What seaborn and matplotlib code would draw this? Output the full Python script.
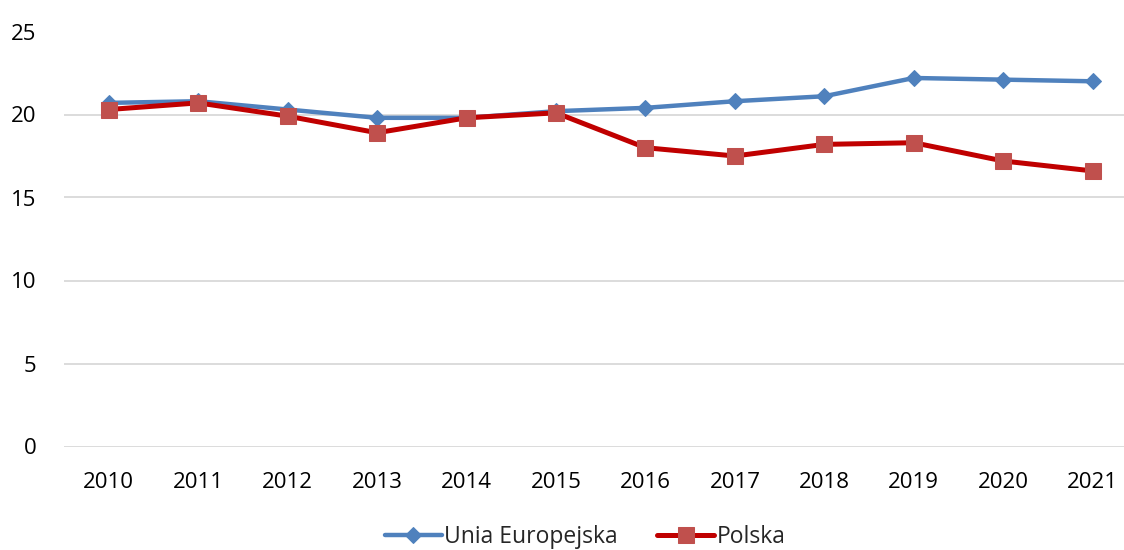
import pandas as pd
import seaborn as sns
import matplotlib.pyplot as plt

years = ["2010", "2011", "2012", "2013", "2014", "2015",
         "2016", "2017", "2018", "2019", "2020", "2021"]
eu = [20.7, 20.8, 20.3, 19.8, 19.8, 20.2, 20.4, 20.8, 21.1, 22.2, 22.1, 22.0]
pl = [20.3, 20.7, 19.9, 18.9, 19.8, 20.1, 18.0, 17.5, 18.2, 18.3, 17.2, 16.6]
labels = ["Unia Europejska", "Polska"]

df = pd.DataFrame({
    "rok": years * 2,
    "wartosc": eu + pl,
    "seria": [labels[0]] * len(years) + [labels[1]] * len(years),
})

sns.set_style("white")
plt.rcParams["font.family"] = ["Open Sans", "DejaVu Sans"]

fig = plt.figure(figsize=(11.24, 5.5), dpi=100)
ax = fig.add_axes([64 / 1124, (550 - 446.5) / 550, 1060 / 1124, 415 / 550])

sns.lineplot(data=df, x="rok", y="wartosc", hue="seria", style="seria",
             palette={labels[0]: "#4F81BD", labels[1]: "#C00000"},
             markers={labels[0]: "D", labels[1]: "s"},
             dashes=False, sort=False, ax=ax, legend=False)

lines = ax.get_lines()
lines[0].set(linewidth=3.2, markersize=8, markerfacecolor="#4F81BD",
             markeredgecolor="#4F81BD", zorder=3)
lines[1].set(linewidth=3.6, markersize=11, markerfacecolor="#C0504D",
             markeredgecolor="#C0504D", zorder=4)

ax.set_ylim(0, 25)
ax.set_yticks([0, 5, 10, 15, 20, 25])
ax.set_xlim(-0.5, 11.35)
ax.yaxis.grid(True, color="#D9D9D9", linewidth=1.3)
ax.set_axisbelow(True)
for s in ax.spines.values():
    s.set_visible(False)
ax.tick_params(axis="both", length=0, labelsize=16, colors="black")
ax.tick_params(axis="y", pad=20)
ax.tick_params(axis="x", pad=18)
ax.set_xlabel("")
ax.set_ylabel("")

ax.legend(lines, labels, loc="center", bbox_to_anchor=(585 / 1124, 13 / 550),
          bbox_transform=fig.transFigure, ncol=2, frameon=False,
          fontsize=16.5, handlelength=2.5, handletextpad=0.1, columnspacing=1.7)

fig.savefig("out.png", dpi=100)
